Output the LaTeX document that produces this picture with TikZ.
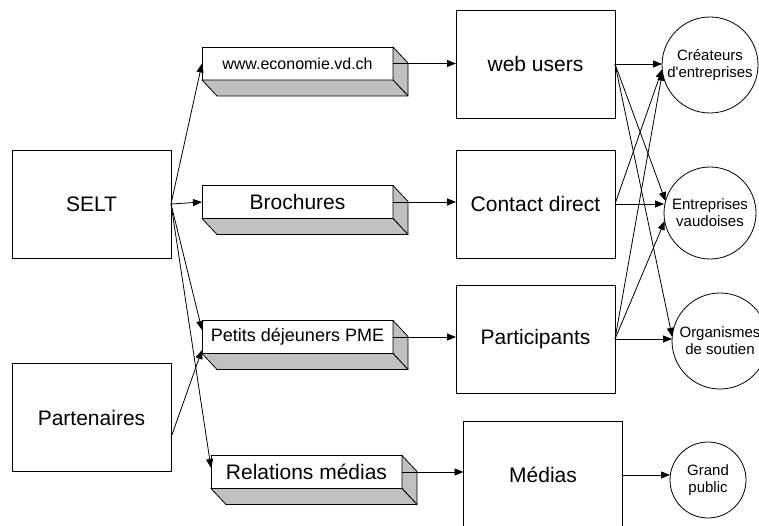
\documentclass[tikz,border=0pt]{standalone}
\usepackage{fontspec}
\setmainfont{Liberation Sans}
\usetikzlibrary{arrows.meta,calc}
\definecolor{facegray}{RGB}{192,192,192}

\begin{document}
\begin{tikzpicture}[x=1pt, y=-1pt, line width=0.8pt,
        >={Triangle[length=9pt,width=7pt]},
        box/.style={draw, minimum width=159pt, minimum height=108pt, outer sep=0pt,
            font=\fontsize{21}{25}\selectfont},
        slab/.style={draw, fill=white, minimum width=191pt, minimum height=33pt,
            inner sep=0pt, outer sep=0pt},
        face/.style={draw, fill=facegray, line join=round},
        target/.style={draw, circle, minimum size=96pt, inner sep=0pt, outer sep=0pt,
            align=center, font=\fontsize{15}{17}\selectfont}]

        \useasboundingbox (0,0) rectangle (759,526);
        \clip (0,0) rectangle (759,526);

        % Quellen
        \node[box] at (91.5,204) (selt) {SELT};
        \node[box] at (91.5,417.5) (partner) {Partenaires};

        % Kanäle
        \node[slab, font=\fontsize{16}{19}\selectfont] at (297.5,63.5) (www) {www.economie.vd.ch};
        \node[slab, font=\fontsize{21}{25}\selectfont] at (297.5,202) (broch) {Brochures};
        \node[slab, font=\fontsize{18}{21}\selectfont] at (297.5,337) (petit) {Petits déjeuners PME};
        \node[slab, font=\fontsize{21}{25}\selectfont] at (306.5,472) (rel) {Relations médias};

        \foreach \s in {www,broch,petit,rel} {
            \draw[face] (\s.north east) -- ++(15,16) -- ++(0,33) -- (\s.south east) -- cycle;
            \draw[face] (\s.south west) -- ++(15,16) -- ++(191,0) -- (\s.south east) -- cycle;
        }

        % Empfänger
        \node[box] at (535.5,64) (web) {web users};
        \node[box] at (535.5,204) (contact) {Contact direct};
        \node[box] at (535.5,339) (particip) {Participants};
        \node[box] at (543,475) (medias) {Médias};

        % Zielgruppen
        \node[target] at (710,65) (crea) {Créateurs\\d\textquotesingle entreprises};
        \node[target, minimum size=92pt] at (710,213) (vaud) {Entreprises\\vaudoises};
        \node[target] at (720,341) (orga) {Organismes\\de soutien};
        \node[target, minimum size=76pt] at (708,480) (public) {Grand\\public};

        % Pfeile Quellen
        \draw[->] (selt.east) -- (www.west);
        \draw[->] (selt.east) -- (broch.west);
        \draw[->] (selt.east) -- ($(petit.west)+(0,-7)$);
        \draw[->] (selt.east) -- ($(rel.west)+(0,-4)$);
        \draw[->] ($(partner.east)+(0,20)$) -- ($(petit.west)+(0,13)$);

        % Pfeile Kanäle
        \draw[->] (www.east) -- (www.east -| web.west);
        \draw[->] (broch.east) -- (broch.east -| contact.west);
        \draw[->] (petit.east) -- (petit.east -| particip.west);
        \draw[->] (rel.east) -- (rel.east -| medias.west);

        % Pfeile Zielgruppen
        \draw[->] (web.east) -- (web.east -| crea.west);
        \draw[->] (web.east) -- (vaud.165);
        \draw[->] (web.east) -- (orga.175);
        \draw[->] (contact.east) -- (crea.185);
        \draw[->] (contact.east) -- (contact.east -| vaud.west);
        \draw[->] (particip.east) -- (crea.188);
        \draw[->] (particip.east) -- (vaud.190);
        \draw[->] (particip.east) -- (particip.east -| orga.west);
        \draw[->] (medias.east) -- (medias.east -| public.west);

    \end{tikzpicture}
\end{document}
